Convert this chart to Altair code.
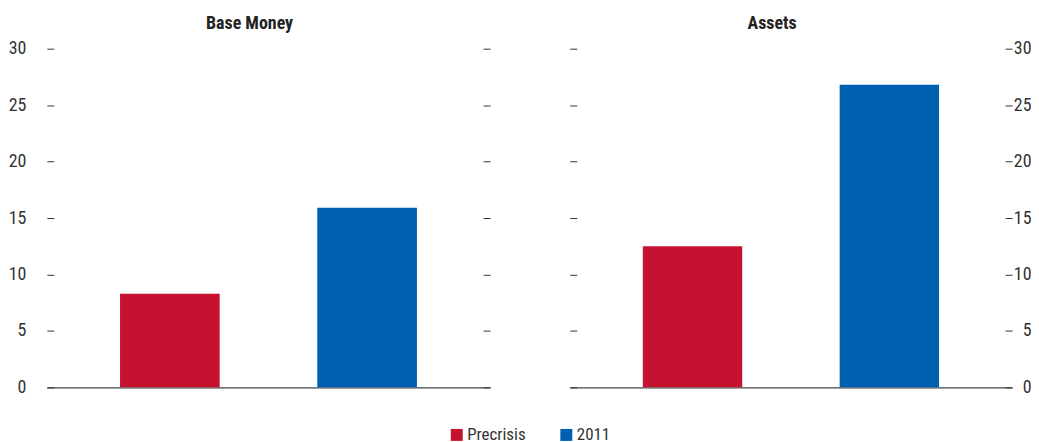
import altair as alt
import pandas as pd

periods = ["Precrisis", "2011"]
panel_titles = ["Base Money", "Assets"]
base_money = [8.3, 15.9]
assets = [12.5, 26.8]
colors = ["#C41230", "#0060B0"]
y_ticks = [0, 5, 10, 15, 20, 25, 30]

FONT = "Roboto Condensed, Liberation Sans Narrow, DejaVu Sans Condensed, Roboto, sans-serif"
TXT = "#333333"


def y_axis(orient, labels, align=None, pad=18):
    kw = dict(
        orient=orient, values=y_ticks, tickSize=7, offset=-7, domain=False,
        grid=False, labels=labels, title=None, tickColor=TXT, tickWidth=1,
        labelFont=FONT, labelFontSize=18, labelColor=TXT, labelPadding=pad,
    )
    if align:
        kw["labelAlign"] = align
    return alt.Axis(**kw)


def panel(title, values, left_labels, width):
    df = pd.DataFrame({"period": periods, "value": values})
    legend = alt.Legend(
        title=None, orient="none", legendX=403, legendY=379,
        direction="horizontal", symbolType="square", symbolSize=144,
        symbolStrokeWidth=0, labelFont=FONT, labelFontSize=17,
        labelColor=TXT, labelOffset=2, columnPadding=32,
    )
    color = alt.Color("period:N", sort=periods,
                      scale=alt.Scale(domain=periods, range=colors),
                      legend=legend)
    x = alt.X("period:N", sort=periods,
              scale=alt.Scale(paddingInner=0.495, paddingOuter=0.371),
              axis=alt.Axis(title=None, labels=False, ticks=False, domain=True,
                            domainColor="#444444", domainWidth=1.2))
    yscale = alt.Scale(domain=[0, 30], nice=False)
    if left_labels:
        ax_l = y_axis("left", True, pad=21)
        ax_r = y_axis("right", False)
    else:
        ax_l = y_axis("left", False)
        ax_r = y_axis("right", True, align="right", pad=19)
    base = alt.Chart(df)
    l1 = base.mark_bar().encode(
        x=x, y=alt.Y("value:Q", scale=yscale, axis=ax_l), color=color)
    l2 = base.mark_bar(opacity=0).encode(
        x=x, y=alt.Y("value:Q", scale=yscale, axis=ax_r), color=color)
    return alt.layer(l1, l2).resolve_axis(y="independent").properties(
        width=width, height=340,
        title=alt.TitleParams(text=title, font=FONT, fontSize=18,
                              fontWeight="bold", color="#222222",
                              frame="group", anchor="middle", dx=-19, offset=7),
    )


chart = alt.hconcat(
    panel(panel_titles[0], base_money, True, 445),
    panel(panel_titles[1], assets, False, 444),
    spacing=78,
).properties(
    padding={"left": 0, "top": 6, "right": 0, "bottom": 0},
).configure_view(stroke=None)

chart.save("out.html", embed_options={"renderer": "svg", "actions": False})
